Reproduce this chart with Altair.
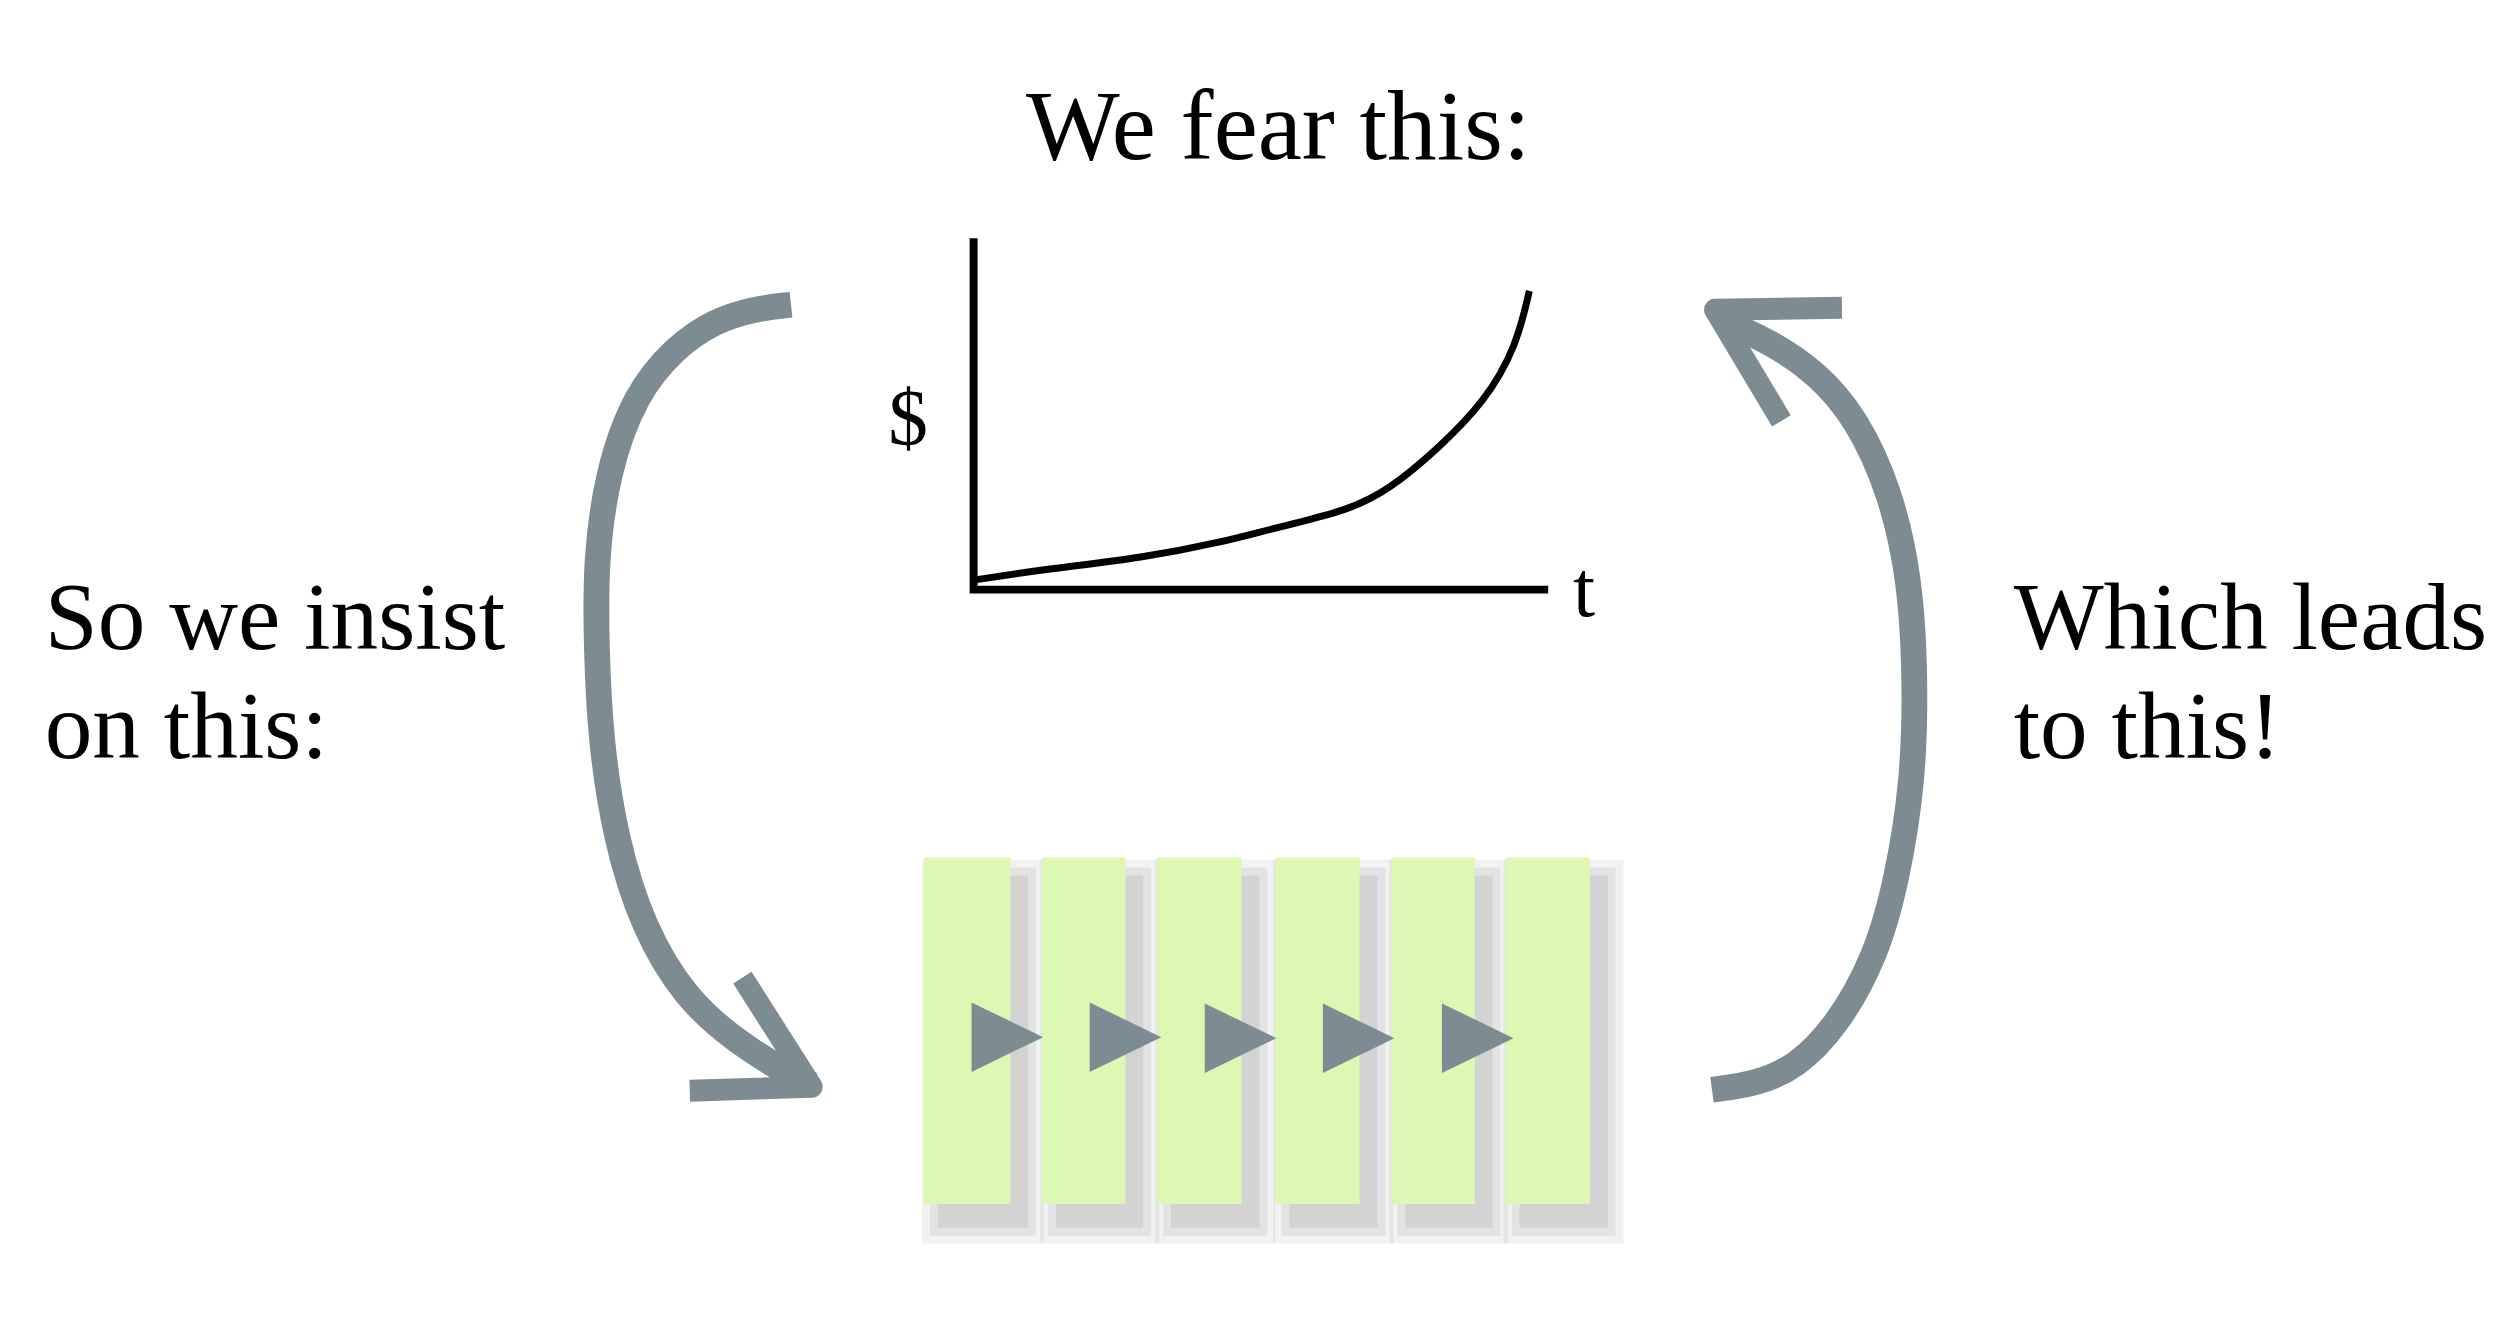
import altair as alt
import pandas as pd

# curve on the small "$ vs t" plot (pixel-space coordinates of the diagram)
curve_x = [984, 1056, 1152, 1232, 1280, 1360, 1400, 1448, 1496, 1528, 1541]
curve_y = [579, 568, 557, 541, 528, 509, 488, 448, 400, 344, 288]

axes_x = [[981, 981, 1560]]
axes_y = [[235, 589, 589]]

left_arrow_x = [797, 760, 720, 680, 640, 612, 600, 601, 605, 620, 648, 690, 742, 800, 818]
left_arrow_y = [302, 306, 318, 345, 392, 470, 560, 650, 740, 840, 930, 1000, 1045, 1080, 1088]
left_head_x = [[695, 818, 748]]
left_head_y = [[1094, 1090, 980]]

right_arrow_x = [1725, 1770, 1810, 1850, 1890, 1912, 1928, 1930, 1925, 1905, 1870, 1830, 1785, 1740]
right_arrow_y = [1093, 1087, 1070, 1030, 960, 880, 780, 680, 580, 490, 415, 370, 340, 320]
right_head_x = [[1856, 1728, 1795]]
right_head_y = [[305, 307, 419]]

bar_x0 = [931, 1050, 1166, 1285, 1402, 1517]
bar_x1 = [1018, 1134, 1251, 1370, 1486, 1602]
bar_top, bar_bottom = 859, 1208

tri_x = [1015, 1134, 1250, 1369, 1489]
tri_y = [1040, 1040, 1041, 1041, 1041]

texts = ["We fear this:", "$", "t", "So we insist", "on this:", "Which leads", "to this!"]
text_x = [1288, 915, 1596, 45, 45, 2029, 2029]
text_y = [125, 419, 592, 620, 730, 620, 730]
text_align = ["center", "center", "center", "left", "left", "left", "left"]
text_size = [100, 80, 80, 96, 96, 96, 96]

X = alt.Scale(domain=[8, 2488])
Y = alt.Scale(domain=[8, 1328], reverse=True)
GRAY = "#7d8c93"
FONT = "Liberation Serif"


def enc(**kw):
    return dict(
        x=alt.X("x:Q", scale=X, axis=None),
        y=alt.Y("y:Q", scale=Y, axis=None),
        **kw,
    )


def paths(xs_list, ys_list):
    rows = []
    for p, (xs, ys) in enumerate(zip(xs_list, ys_list)):
        for i, (a, b) in enumerate(zip(xs, ys)):
            rows.append({"p": p, "i": i, "x": a, "y": b})
    return pd.DataFrame(rows)


layers = []

# soft bar shadows
for off, grow, op in [(16, 18, 0.05), (16, 10, 0.06), (16, 2, 0.07)]:
    shadow = pd.DataFrame({"x": [a + off - grow for a in bar_x0], "x2": [b + off + grow for b in bar_x1],
                           "y": [bar_top + 20 - grow] * 6, "y2": [bar_bottom + 22 + grow] * 6})
    layers.append(alt.Chart(shadow).mark_rect(color="#000000", opacity=op).encode(
        x=alt.X("x:Q", scale=X, axis=None), x2="x2:Q",
        y=alt.Y("y:Q", scale=Y, axis=None), y2="y2:Q"))
bars = pd.DataFrame({"x": bar_x0, "x2": bar_x1, "y": [bar_top] * 6, "y2": [bar_bottom] * 6})
layers.append(alt.Chart(bars).mark_rect(color="#dcf8b2").encode(
    x=alt.X("x:Q", scale=X, axis=None), x2="x2:Q",
    y=alt.Y("y:Q", scale=Y, axis=None), y2="y2:Q"))

tris = pd.DataFrame({"x": tri_x, "y": tri_y})
layers.append(alt.Chart(tris).mark_point(
    shape="M-1.03,-1 L1.03,0 L-1.03,1 Z", filled=True, opacity=1, color=GRAY, size=4900
).encode(**enc()))

# axes of small plot
layers.append(alt.Chart(paths(axes_x, axes_y)).mark_line(color="black", strokeWidth=8).encode(
    **enc(detail="p:N", order="i:Q")))
layers.append(alt.Chart(paths([curve_x], [curve_y])).mark_line(
    color="black", strokeWidth=7, interpolate="basis").encode(**enc(order="i:Q")))

# arrows
for xs, ys, hx, hy in [(left_arrow_x, left_arrow_y, left_head_x, left_head_y),
                       (right_arrow_x, right_arrow_y, right_head_x, right_head_y)]:
    layers.append(alt.Chart(paths([xs], [ys])).mark_line(
        color=GRAY, strokeWidth=26, interpolate="basis", strokeCap="butt").encode(**enc(order="i:Q")))
    layers.append(alt.Chart(paths(hx, hy)).mark_line(
        color=GRAY, strokeWidth=22, strokeJoin="round", strokeCap="butt").encode(
        **enc(detail="p:N", order="i:Q")))

txt = pd.DataFrame({"t": texts, "x": text_x, "y": text_y, "a": text_align, "s": text_size})
for a in ["center", "left"]:
    sub = txt[txt.a == a]
    for s in sorted(sub.s.unique()):
        d = sub[sub.s == s]
        layers.append(alt.Chart(d).mark_text(
            align=a, baseline="middle", font=FONT, fontSize=int(s), color="black").encode(
            **enc(text="t:N")))

chart = alt.layer(*layers).properties(width=2480, height=1320, padding=0).configure_view(stroke=None)
chart.save("out.html", embed_options={"renderer": "svg", "actions": False})
